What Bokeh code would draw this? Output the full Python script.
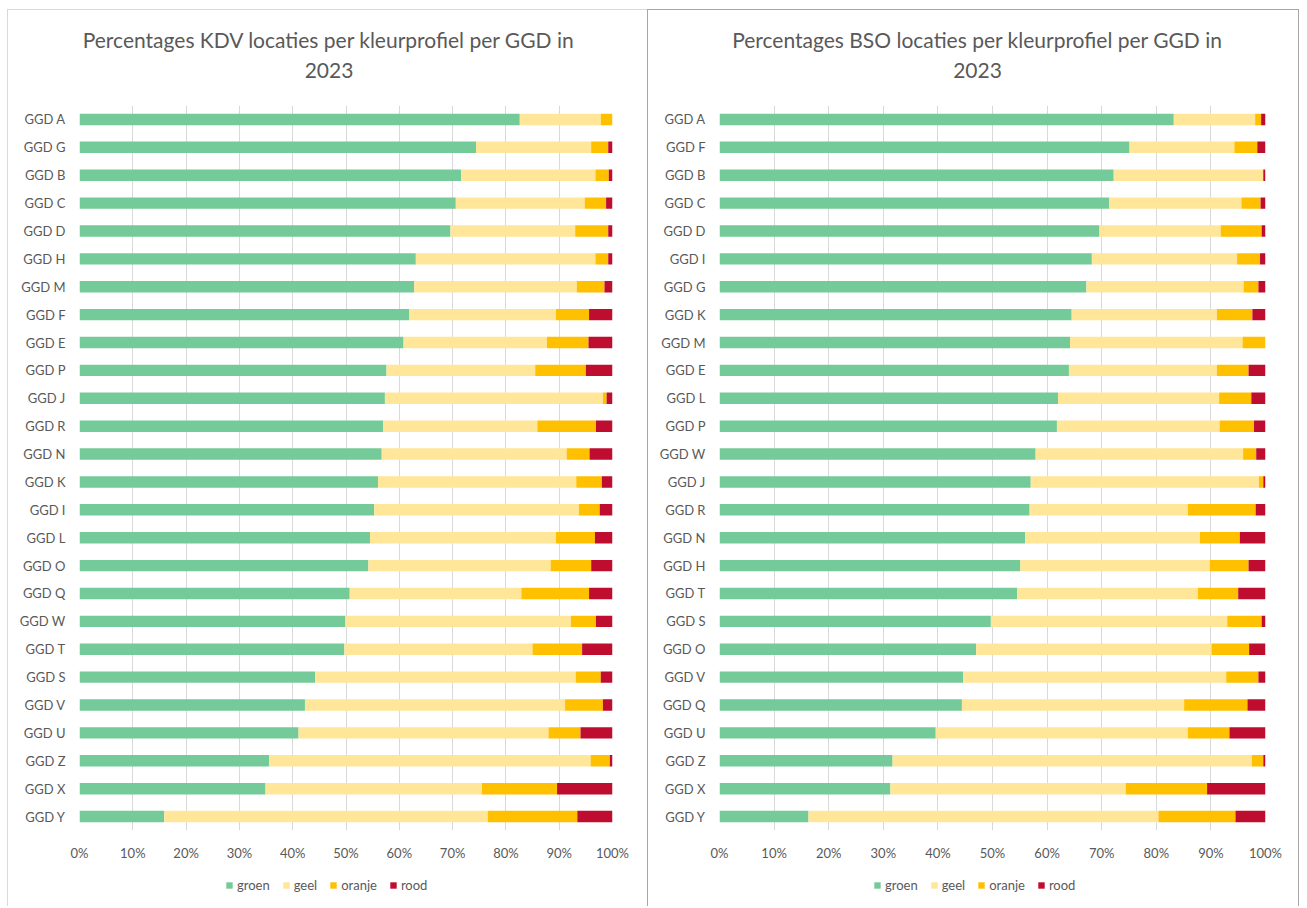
from bokeh.plotting import figure
from bokeh.models import FactorRange, Range1d, Legend, LegendItem, FixedTicker, Spacer
from bokeh.layouts import row, column
from bokeh.core.properties import value
from bokeh.embed import file_html
from bokeh.resources import INLINE

# ---------------- data ----------------
kleuren = ["groen", "geel", "oranje", "rood"]
kleur_hex = ["#74CB99", "#FFE699", "#FFC000", "#BF0D30"]

tick_values = [0, 10, 20, 30, 40, 50, 60, 70, 80, 90, 100]
tick_labels = ["0%", "10%", "20%", "30%", "40%", "50%", "60%", "70%", "80%", "90%", "100%"]

kdv_title = ["Percentages KDV locaties per kleurprofiel per GGD in", "2023"]
kdv_ggd = ["GGD A", "GGD G", "GGD B", "GGD C", "GGD D", "GGD H", "GGD M", "GGD F", "GGD E",
           "GGD P", "GGD J", "GGD R", "GGD N", "GGD K", "GGD I", "GGD L", "GGD O", "GGD Q",
           "GGD W", "GGD T", "GGD S", "GGD V", "GGD U", "GGD Z", "GGD X", "GGD Y"]
kdv_groen = [82.6, 74.4, 71.6, 70.6, 69.6, 63.1, 62.8, 61.9, 60.8, 57.6, 57.3, 57.0, 56.7,
             56.0, 55.3, 54.5, 54.2, 50.7, 49.9, 49.7, 44.2, 42.3, 41.1, 35.6, 34.9, 15.9]
kdv_geel = [15.2, 21.6, 25.2, 24.2, 23.4, 33.7, 30.5, 27.5, 26.9, 27.9, 40.9, 28.9, 34.7,
            37.2, 38.4, 34.9, 34.2, 32.2, 42.3, 35.3, 48.9, 48.8, 46.9, 60.3, 40.6, 60.7]
kdv_oranje = [2.2, 3.2, 2.5, 4.0, 6.2, 2.4, 5.2, 6.2, 7.8, 9.5, 0.7, 11.0, 4.3,
              4.8, 3.9, 7.3, 7.6, 12.7, 4.7, 9.3, 4.7, 7.1, 6.0, 3.6, 14.1, 16.8]
kdv_rood = [0.0, 0.8, 0.7, 1.2, 0.8, 0.8, 1.5, 4.4, 4.5, 5.0, 1.1, 3.1, 4.3,
            2.0, 2.4, 3.3, 4.0, 4.4, 3.1, 5.7, 2.2, 1.8, 6.0, 0.5, 10.4, 6.6]

bso_title = ["Percentages BSO locaties per kleurprofiel per GGD in", "2023"]
bso_ggd = ["GGD A", "GGD F", "GGD B", "GGD C", "GGD D", "GGD I", "GGD G", "GGD K", "GGD M",
           "GGD E", "GGD L", "GGD P", "GGD W", "GGD J", "GGD R", "GGD N", "GGD H", "GGD T",
           "GGD S", "GGD O", "GGD V", "GGD Q", "GGD U", "GGD Z", "GGD X", "GGD Y"]
bso_groen = [83.2, 75.1, 72.2, 71.4, 69.6, 68.2, 67.2, 64.5, 64.2, 64.0, 62.0, 61.8, 57.9,
             57.0, 56.8, 56.0, 55.1, 54.5, 49.7, 47.0, 44.6, 44.4, 39.6, 31.7, 31.3, 16.3]
bso_geel = [14.9, 19.2, 27.3, 24.2, 22.2, 26.6, 28.8, 26.6, 31.6, 27.1, 29.5, 29.8, 38.0,
            41.8, 29.0, 32.0, 34.7, 33.1, 43.3, 43.1, 48.2, 40.7, 46.2, 65.8, 43.1, 64.1]
bso_oranje = [1.1, 4.2, 0.1, 3.5, 7.5, 4.2, 2.7, 6.5, 4.2, 5.8, 5.9, 6.3, 2.4,
              0.8, 12.4, 7.3, 7.1, 7.4, 6.3, 6.9, 5.9, 11.6, 7.6, 2.1, 14.9, 14.1]
bso_rood = [0.8, 1.5, 0.4, 0.9, 0.7, 1.0, 1.3, 2.4, 0.0, 3.1, 2.6, 2.1, 1.7,
            0.4, 1.8, 4.7, 3.1, 5.0, 0.7, 3.0, 1.3, 3.3, 6.6, 0.4, 10.7, 5.5]

FONT = "Lato"
TXT = "#595959"
TITLE_H = 96
CHART_H = 765
LEG_H = 36


def bare(width, height, left, right, css):
    # x data units equal canvas pixels; frames are aligned with the chart below
    p = figure(width=width, height=height, x_range=Range1d(left, width - right),
               y_range=Range1d(0, height),
               output_backend="svg", toolbar_location=None,
               x_axis_location=None, y_axis_location=None,
               min_border_left=left, min_border_right=right, min_border_top=0, min_border_bottom=0)
    p.styles = css
    p.grid.grid_line_color = None
    p.outline_line_color = None
    p.title.text = ""
    return p


def make_title(lines, width, left, right, cx, css):
    p = bare(width, TITLE_H, left, right, css)
    p.text(x=[cx, cx], y=[67, 36], text=lines, text_align="center", text_baseline="middle",
           text_font=value(FONT), text_font_size="21px", text_color=TXT)
    return p


def make_chart(ggd, groen, geel, oranje, rood, width, left, right, css):
    source = dict(ggd=ggd, groen=groen, geel=geel, oranje=oranje, rood=rood)
    p = figure(width=width, height=CHART_H,
               y_range=FactorRange(factors=list(reversed(ggd))),
               x_range=Range1d(0, 100),
               output_backend="svg", toolbar_location=None,
               min_border_left=left, min_border_right=right,
               min_border_top=0, min_border_bottom=40)
    p.styles = css
    p.title.text = ""
    p.hbar_stack(kleuren, y="ggd", height=0.41, fill_color=kleur_hex,
                 line_color=None, source=source)
    p.outline_line_color = None

    p.xaxis.ticker = FixedTicker(ticks=tick_values)
    p.xaxis.major_label_overrides = {v: t for v, t in zip(tick_values, tick_labels)}
    for ax in (p.xaxis, p.yaxis):
        ax.axis_line_color = None
        ax.major_tick_line_color = None
        ax.minor_tick_line_color = None
        ax.major_tick_out = 0
        ax.major_tick_in = 0
        ax.major_label_text_color = TXT
        ax.major_label_text_font = FONT
        ax.major_label_text_font_size = "13px"
    p.xaxis.major_label_standoff = 14
    p.yaxis.major_label_standoff = 14
    p.xgrid.grid_line_color = "#D9D9D9"
    p.ygrid.grid_line_color = None
    return p


def make_legend(width, left, right, lx, css):
    p = bare(width, LEG_H, left, right, css)
    items = []
    for k, c in zip(kleuren, kleur_hex):
        # off-screen swatch renderer, only used to draw the legend glyph
        r = p.hbar(y=[-100], left=[left], right=[left + 1], height=1, fill_color=c, line_color=None)
        items.append(LegendItem(label=k, renderers=[r]))
    legend = Legend(items=items, orientation="horizontal", location=(lx, 13),
                    glyph_width=8, glyph_height=8, label_standoff=4, spacing=12,
                    padding=0, margin=0, border_line_color=None, background_fill_alpha=0,
                    label_text_font=FONT, label_text_font_size="13px", label_text_color=TXT,
                    label_height=14)
    p.add_layout(legend, "center")
    return p


L_CSS = "1px solid #D9D9D9"
R_CSS = "1px solid #A6A6A6"

left_panel = column(
    make_title(kdv_title, 640, 71, 36, 320.5, {"border-top": L_CSS, "border-left": L_CSS}),
    make_chart(kdv_ggd, kdv_groen, kdv_geel, kdv_oranje, kdv_rood, 640, 71, 36,
               {"border-left": L_CSS}),
    make_legend(640, 71, 36, 146, {"border-left": L_CSS}),
    spacing=0)

right_panel = column(
    make_title(bso_title, 652, 71, 35, 329, {"border-top": R_CSS, "border-left": R_CSS, "border-right": R_CSS}),
    make_chart(bso_ggd, bso_groen, bso_geel, bso_oranje, bso_rood, 652, 71, 35,
               {"border-left": R_CSS, "border-right": R_CSS}),
    make_legend(652, 71, 35, 154, {"border-left": R_CSS, "border-right": R_CSS}),
    spacing=0)

layout = column(Spacer(height=9), row(Spacer(width=7), left_panel, right_panel, spacing=0), spacing=0)
open("out.html", "w").write(file_html(layout, INLINE))
